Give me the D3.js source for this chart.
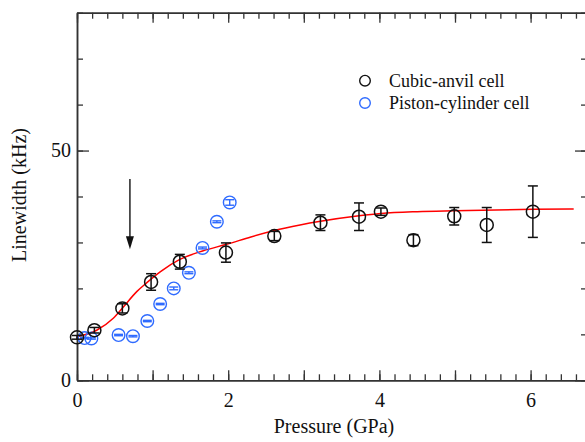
<!DOCTYPE html>
<html>
<head>
<meta charset="utf-8">
<script src="https://cdn.jsdelivr.net/npm/d3@7"></script>
<style>
  body { margin: 0; background: #fff; }
  svg { display: block; }
  svg text { font-family: "Liberation Serif", Tinos, "Times New Roman", "DejaVu Serif", serif !important; }
</style>
</head>
<body>
<svg id="chart"></svg>
<script>
// Cubic-anvil cell: pressure (GPa), linewidth (kHz), error
const cubicP = [0, 0.23, 0.60, 0.98, 1.36, 1.97, 2.61, 3.22, 3.73, 4.02, 4.45, 4.99, 5.42, 6.03];
const cubicW = [9.35, 10.9, 15.65, 21.4, 25.8, 27.8, 31.4, 34.3, 35.6, 36.7, 30.5, 35.7, 33.8, 36.7];
const cubicErr = [0.4, 0.6, 1.0, 1.8, 1.6, 2.1, 1.0, 1.7, 3.0, 0.8, 1.2, 1.9, 3.8, 5.6];

// Piston-cylinder cell
const pistonP = [0.10, 0.19, 0.55, 0.74, 0.93, 1.10, 1.28, 1.48, 1.66, 1.85, 2.02];
const pistonW = [9.2, 9.1, 9.85, 9.6, 12.9, 16.6, 20.0, 23.4, 28.8, 34.5, 38.7];
const pistonErr = [0.15, 0.15, 0.15, 0.15, 0.15, 0.15, 0.3, 0.2, 0.2, 0.2, 0.6];

// fit curve
const fitP = [0, 0.26, 0.48, 0.61, 0.79, 0.92, 1.10, 1.36, 1.67, 1.98, 2.30, 2.61, 2.95, 3.22, 3.73, 4.02, 4.50, 4.99, 6.03, 6.57];
const fitW = [9.5, 10.9, 13.5, 15.9, 19.3, 21.2, 23.6, 26.3, 28.2, 29.6, 31.2, 32.6, 33.8, 34.6, 35.8, 36.3, 36.7, 36.9, 37.2, 37.3];

// arrow: pressure, top, tip
const arrowP = 0.70;
const arrowW = [43.8, 28.5];

const xLabelTicks = [0, 2, 4, 6];
const yLabelTicks = [0, 50];

const W = 585, H = 442;
const mLeft = 77, mTop = 12.7, mRight = 587, mBottom = 380.3;
const serif = '"Liberation Serif", Tinos, "Times New Roman", "DejaVu Serif", serif';

const svg = d3.select('#chart').attr('width', W).attr('height', H);

const x = d3.scaleLinear().domain([0, (mRight - mLeft) / 75.6]).range([mLeft, mRight]);
const y = d3.scaleLinear().domain([0, 80]).range([mBottom, mTop]);

const axisColor = '#333';
const xMinor = d3.range(0, 6.8, 0.2).filter(v => v <= x.domain()[1]);
const xMajor = d3.range(0, 7, 1);
const yMinor = d3.range(0, 81, 10);

function styleAxis(g) {
  g.attr('font-family', serif).attr('font-size', 20);
  g.select('.domain').attr('stroke', axisColor).attr('stroke-width', 1.5);
  g.selectAll('.tick line').attr('stroke', axisColor).attr('stroke-width', 1.3);
  g.selectAll('.tick text').attr('fill', '#111');
}

// bottom
svg.append('g').attr('transform', `translate(0,${mBottom})`)
  .call(d3.axisBottom(x).tickValues(xMinor).tickSize(-6).tickFormat('').tickSizeOuter(0)).call(styleAxis);
svg.append('g').attr('transform', `translate(0,${mBottom})`)
  .call(d3.axisBottom(x).tickValues(xMajor).tickSize(-10).tickSizeOuter(0).tickPadding(12.5)
    .tickFormat(d => xLabelTicks.includes(d) ? d : '')).call(styleAxis);
// top
svg.append('g').attr('transform', `translate(0,${mTop})`)
  .call(d3.axisTop(x).tickValues(xMinor).tickSize(-6).tickFormat('').tickSizeOuter(0)).call(styleAxis);
svg.append('g').attr('transform', `translate(0,${mTop})`)
  .call(d3.axisTop(x).tickValues(xMajor).tickSize(-10).tickFormat('').tickSizeOuter(0)).call(styleAxis);
// left
svg.append('g').attr('transform', `translate(${mLeft},0)`)
  .call(d3.axisLeft(y).tickValues(yMinor).tickSize(-6).tickFormat('').tickSizeOuter(0)).call(styleAxis);
svg.append('g').attr('transform', `translate(${mLeft},0)`)
  .call(d3.axisLeft(y).tickValues(yLabelTicks).tickSize(-12).tickPadding(6).tickSizeOuter(0)).call(styleAxis);
// right
svg.append('g').attr('transform', `translate(${mRight},0)`)
  .call(d3.axisRight(y).tickValues(yMinor).tickSize(-6).tickFormat('').tickSizeOuter(0)).call(styleAxis);
svg.append('g').attr('transform', `translate(${mRight},0)`)
  .call(d3.axisRight(y).tickValues(yLabelTicks).tickSize(-12).tickFormat('').tickSizeOuter(0)).call(styleAxis);

// axis titles
svg.append('text')
  .attr('x', 334).attr('y', 433)
  .attr('text-anchor', 'middle').attr('font-family', serif).attr('font-size', 20).attr('fill', '#111')
  .text('Pressure (GPa)');
svg.append('text')
  .attr('transform', 'translate(26,195) rotate(-90)')
  .attr('text-anchor', 'middle').attr('font-family', serif).attr('font-size', 20).attr('fill', '#111')
  .text('Linewidth (kHz)');

// fit line
const fit = fitP.map((p, i) => ({ p, w: fitW[i] }));
svg.append('path')
  .datum(fit)
  .attr('fill', 'none')
  .attr('stroke', '#ff0000')
  .attr('stroke-width', 1.5)
  .attr('d', d3.line().x(d => x(d.p)).y(d => y(d.w)).curve(d3.curveMonotoneX));

// arrow
svg.append('line')
  .attr('x1', x(arrowP)).attr('x2', x(arrowP))
  .attr('y1', y(arrowW[0])).attr('y2', y(arrowW[1]) - 8)
  .attr('stroke', '#222').attr('stroke-width', 1.5);
svg.append('path')
  .attr('d', `M${x(arrowP) - 4},${y(arrowW[1]) - 13} L${x(arrowP) + 4},${y(arrowW[1]) - 13} L${x(arrowP)},${y(arrowW[1])} Z`)
  .attr('fill', '#111');

// series drawing
function drawSeries(P, Wd, E, color, r, capW, sw) {
  const data = P.map((p, i) => ({ p, w: Wd[i], e: E[i] }));
  const g = svg.append('g');
  const pts = g.selectAll('g').data(data).enter().append('g');
  pts.append('line')
    .attr('x1', d => x(d.p)).attr('x2', d => x(d.p))
    .attr('y1', d => y(d.w - d.e)).attr('y2', d => y(d.w + d.e))
    .attr('stroke', color).attr('stroke-width', sw);
  pts.append('line')
    .attr('x1', d => x(d.p) - capW / 2).attr('x2', d => x(d.p) + capW / 2)
    .attr('y1', d => y(d.w - d.e)).attr('y2', d => y(d.w - d.e))
    .attr('stroke', color).attr('stroke-width', sw);
  pts.append('line')
    .attr('x1', d => x(d.p) - capW / 2).attr('x2', d => x(d.p) + capW / 2)
    .attr('y1', d => y(d.w + d.e)).attr('y2', d => y(d.w + d.e))
    .attr('stroke', color).attr('stroke-width', sw);
  pts.append('circle')
    .attr('cx', d => x(d.p)).attr('cy', d => y(d.w)).attr('r', r)
    .attr('fill', 'none').attr('stroke', color).attr('stroke-width', sw);
}

drawSeries(pistonP, pistonW, pistonErr, '#2f6bff', 6.3, 9, 1.4);
drawSeries(cubicP, cubicW, cubicErr, '#111', 6.5, 10, 1.5);

// legend
const legend = [
  { label: 'Cubic-anvil cell', color: '#111', y: 80.7 },
  { label: 'Piston-cylinder cell', color: '#2f6bff', y: 103 }
];
const lg = svg.append('g');
legend.forEach(l => {
  lg.append('circle').attr('cx', 365).attr('cy', l.y).attr('r', 5.3)
    .attr('fill', 'none').attr('stroke', l.color).attr('stroke-width', 1.4);
  lg.append('text').attr('x', 389).attr('y', l.y + 6)
    .attr('font-family', serif).attr('font-size', 18).attr('fill', '#111').text(l.label);
});
</script>
</body>
</html>
